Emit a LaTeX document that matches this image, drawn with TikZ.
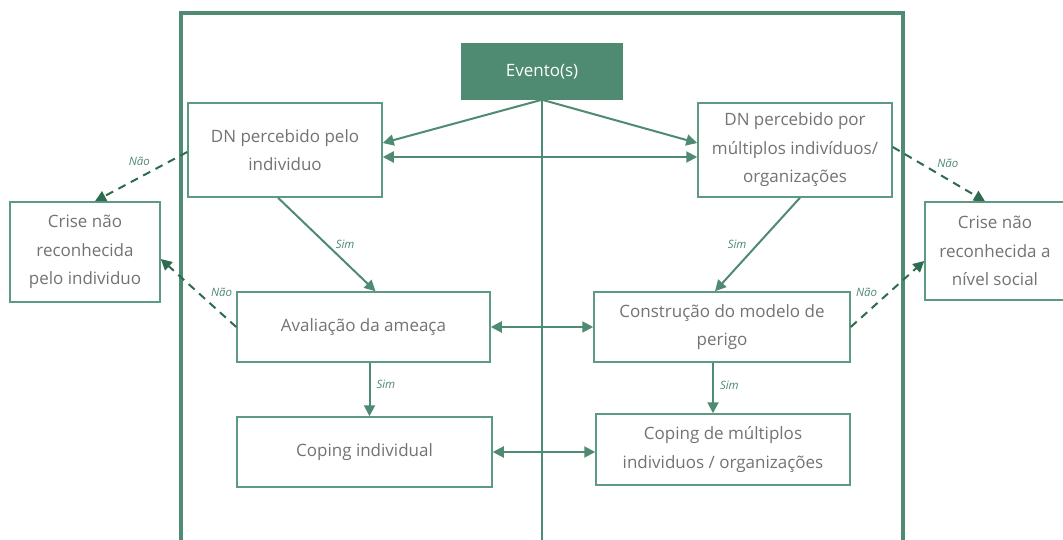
\documentclass[tikz,border=0pt]{standalone}
\usepackage{fontspec}
\setmainfont{Open Sans}
\usetikzlibrary{arrows.meta,calc,positioning}
\definecolor{frameg}{HTML}{4F8A72}
\definecolor{boxg}{HTML}{5E9A82}
\definecolor{dashg}{HTML}{2F6B4F}
\definecolor{txt}{HTML}{737373}
\begin{document}
\begin{tikzpicture}[x=1pt,y=-1pt,
  box/.style={draw=boxg,line width=1.5pt,fill=white,align=center,text=txt,
    font=\fontsize{17}{28.5}\selectfont,inner sep=0pt},
  arr/.style={draw=frameg,line width=2pt,-{Triangle[length=11pt,width=11pt]}},
  darr/.style={draw=frameg,line width=2pt,{Triangle[length=11pt,width=11pt]}-{Triangle[length=11pt,width=11pt]}},
  dsh/.style={draw=dashg,line width=2pt,dash pattern=on 8pt off 6pt,-{Triangle[length=11pt,width=11pt]}},
  lbl/.style={text=frameg,font=\fontsize{11.5}{13}\selectfont\itshape,inner sep=0pt}]
\useasboundingbox (0,0) rectangle (1063,540);
\clip (0,0) rectangle (1063,540);
\fill[white] (0,0) rectangle (1063,540);
% outer frame
\draw[frameg,line width=3.5pt] (181,13) rectangle (903,560);
% nodes
\node[box,fill=frameg,draw=frameg,text=white,minimum width=160pt,minimum height=55pt] (ev) at (542,71.5) {Evento(s)};
\draw[frameg,line width=2.5pt] (ev.south) -- (542,560);
\node[box,minimum width=194pt,minimum height=94pt] (dni) at (285,150) {DN percebido pelo\\individuo};
\node[box,minimum width=194pt,minimum height=94pt] (dnm) at (795,150) {DN percebido por\\múltiplos indivíduos/\\organizações};
\node[box,minimum width=150pt,minimum height=100pt] (cri) at (85,252) {Crise não\\reconhecida\\pelo individuo};
\node[box,minimum width=140pt,minimum height=98pt] (crs) at (995,251) {Crise não\\reconhecida a\\nível social};
\node[box,minimum width=253pt,minimum height=70pt] (ava) at (363.5,327) {Avaliação da ameaça};
\node[box,minimum width=256pt,minimum height=70pt] (con) at (722,327) {Construção do modelo de\\perigo};
\node[box,minimum width=255pt,minimum height=70pt] (coi) at (364.5,452) {Coping individual};
\node[box,minimum width=254pt,minimum height=71pt] (com) at (723,449.5) {Coping de múltiplos\\individuos / organizações};
% connectors
\draw[arr] (ev.south) -- ([yshift=7pt]dni.east);
\draw[arr] (ev.south) -- ([yshift=7pt]dnm.west);
\draw[darr] ([yshift=-7pt]dni.east) -- ([yshift=-7pt]dnm.west);
\draw[arr] ([xshift=-7pt]dni.south) -- ([xshift=12pt]ava.north) node[lbl,pos=0.5,right=8pt] {Sim};
\draw[arr] ([xshift=5pt]dnm.south) -- ([xshift=-7pt]con.north) node[lbl,pos=0.5,left=10pt] {Sim};
\draw[darr] (ava.east) -- (con.west);
\draw[arr] ([xshift=6pt]ava.south) -- ([xshift=6pt]ava.south |- coi.north) node[lbl,pos=0.4,right=6pt] {Sim};
\draw[arr] ([xshift=-9pt]con.south) -- ([xshift=-9pt]con.south |- com.north) node[lbl,pos=0.45,right=6pt] {Sim};
\draw[darr] (coi.east) -- (coi.east -| com.west);
% dashed
\draw[dsh] ([yshift=-2pt]dni.west) -- ([xshift=10pt]cri.north) node[lbl,pos=0.35,above left=3pt and 4pt] {Não};
\draw[dsh] (ava.west) -- ([yshift=-7pt]cri.east) node[lbl,pos=0.4,above right=2pt and 4pt] {Não};
\draw[dsh] ([yshift=3pt]dnm.east) -- ([xshift=-10pt]crs.north) node[lbl,pos=0.45,above right=3pt and 2pt] {Não};
\draw[dsh] (con.east) -- ([yshift=-10pt]crs.west) node[lbl,pos=0.4,above left=3pt and 2pt] {Não};
\end{tikzpicture}
\end{document}
